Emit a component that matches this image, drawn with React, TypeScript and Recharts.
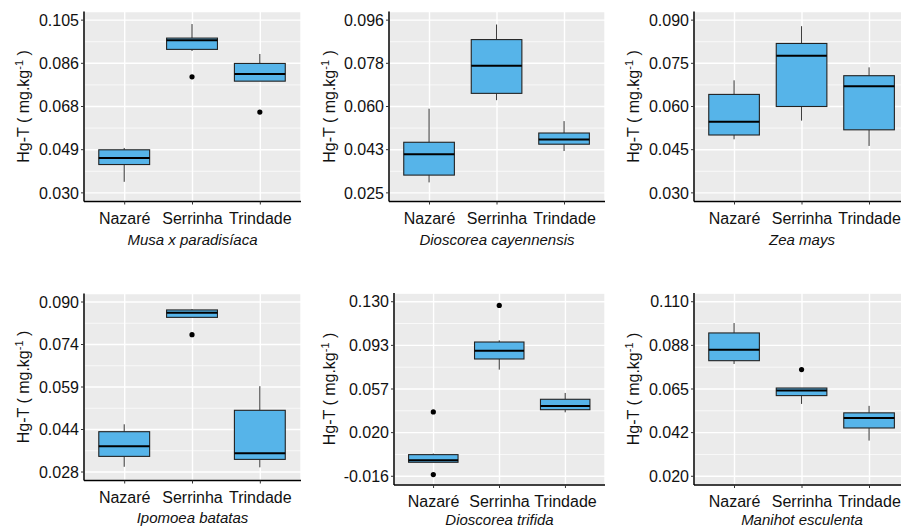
import React from "react";
import { ComposedChart, Bar, XAxis, YAxis, CartesianGrid } from "recharts";

// Hg-T box plots per site, one panel per crop species
const sites = ["Nazaré", "Serrinha", "Trindade"];
const species = [
  "Musa x paradisíaca",
  "Dioscorea cayennensis",
  "Zea mays",
  "Ipomoea batatas",
  "Dioscorea trifida",
  "Manihot esculenta",
];

// [lower whisker, Q1, median, Q3, upper whisker] per site
const musaStats = [
  [0.0348, 0.0423, 0.0451, 0.0487, 0.0495],
  [0.0916, 0.0923, 0.0963, 0.0972, 0.1033],
  [0.0785, 0.0785, 0.0816, 0.0862, 0.0903],
];
const musaOutliers = [[], [0.0804], [0.0651]];
const musaTicks = [0.03, 0.04875, 0.0675, 0.08625, 0.105];
const musaLabels = ["0.030", "0.049", "0.068", "0.086", "0.105"];

const cayenStats = [
  [0.0293, 0.0323, 0.0409, 0.0458, 0.0596],
  [0.0631, 0.0659, 0.0772, 0.088, 0.0942],
  [0.0422, 0.045, 0.0469, 0.0496, 0.0545],
];
const cayenOutliers = [[], [], []];
const cayenTicks = [0.025, 0.04275, 0.0605, 0.07825, 0.096];
const cayenLabels = ["0.025", "0.043", "0.060", "0.078", "0.096"];

const zeaStats = [
  [0.0486, 0.0501, 0.0547, 0.0642, 0.0691],
  [0.0551, 0.06, 0.0776, 0.0819, 0.0879],
  [0.0463, 0.0519, 0.067, 0.0707, 0.0736],
];
const zeaOutliers = [[], [], []];
const zeaTicks = [0.03, 0.045, 0.06, 0.075, 0.09];
const zeaLabels = ["0.030", "0.045", "0.060", "0.075", "0.090"];

const ipomStats = [
  [0.0299, 0.0337, 0.0374, 0.0427, 0.0454],
  [0.0844, 0.0844, 0.0861, 0.0871, 0.0874],
  [0.0297, 0.0326, 0.0348, 0.0505, 0.0593],
];
const ipomOutliers = [[], [0.0781], []];
const ipomTicks = [0.028, 0.0435, 0.059, 0.0745, 0.09];
const ipomLabels = ["0.028", "0.044", "0.059", "0.074", "0.090"];

const trifStats = [
  [-0.0043, -0.0043, -0.0026, 0.0021, 0.003],
  [0.0732, 0.0821, 0.089, 0.0963, 0.0977],
  [0.0375, 0.0397, 0.0428, 0.0484, 0.0537],
];
const trifOutliers = [[0.0378, -0.0146], [0.1269], []];
const trifTicks = [-0.016, 0.0205, 0.057, 0.0935, 0.13];
const trifLabels = ["-0.016", "0.020", "0.057", "0.093", "0.130"];

const maniStats = [
  [0.0779, 0.0796, 0.0853, 0.0939, 0.099],
  [0.0573, 0.0616, 0.0642, 0.0655, 0.0655],
  [0.0384, 0.0449, 0.0501, 0.0527, 0.0563],
];
const maniOutliers = [[], [0.075], []];
const maniTicks = [0.02, 0.0425, 0.065, 0.0875, 0.11];
const maniLabels = ["0.020", "0.042", "0.065", "0.088", "0.110"];

const panels = [
  { stats: musaStats, outliers: musaOutliers, ticks: musaTicks, labels: musaLabels },
  { stats: cayenStats, outliers: cayenOutliers, ticks: cayenTicks, labels: cayenLabels },
  { stats: zeaStats, outliers: zeaOutliers, ticks: zeaTicks, labels: zeaLabels },
  { stats: ipomStats, outliers: ipomOutliers, ticks: ipomTicks, labels: ipomLabels },
  { stats: trifStats, outliers: trifOutliers, ticks: trifTicks, labels: trifLabels },
  { stats: maniStats, outliers: maniOutliers, ticks: maniTicks, labels: maniLabels },
];

// page placement of each panel (chart box + plot area edges)
const layouts = [
  { left: 0, top: 0, width: 301, height: 262, x0: 84, y0: 11.5, y1: 201.5, gap: 55, xGap: 43.5 },
  { left: 303, top: 0, width: 302, height: 262, x0: 389, y0: 11.5, y1: 201.5, gap: 54, xGap: 43.5 },
  { left: 606, top: 0, width: 304, height: 262, x0: 694, y0: 11.5, y1: 201.5, gap: 55, xGap: 43.5 },
  { left: 0, top: 265, width: 301, height: 264, x0: 84, y0: 293.5, y1: 480.5, gap: 55, xGap: 42.5 },
  { left: 303, top: 265, width: 302, height: 264, x0: 394, y0: 293, y1: 485, gap: 59, xGap: 39.5 },
  { left: 606, top: 265, width: 304, height: 264, x0: 694, y0: 293, y1: 485, gap: 55, xGap: 39.5 },
];

const FONT = '"Comic Sans MS", "Liberation Sans", Arial, sans-serif';
const BOX_FILL = "#56B4E9";

function BoxShape(props: any) {
  const { x, y, width, height, payload } = props;
  if (!payload) return null;
  const [lo, q1, med, q3, hi] = payload.stats;
  const top = Math.min(y, y + height);
  const bot = Math.max(y, y + height);
  const span = hi - lo || 1;
  const py = (v: number) => bot - ((v - lo) / span) * (bot - top);
  const cx = x + width / 2;
  return (
    <g>
      <line x1={cx} x2={cx} y1={py(hi)} y2={py(q3)} stroke="#333" strokeWidth={1} />
      <line x1={cx} x2={cx} y1={py(q1)} y2={py(lo)} stroke="#333" strokeWidth={1} />
      <rect
        x={x}
        y={py(q3)}
        width={width}
        height={py(q1) - py(q3)}
        fill={BOX_FILL}
        stroke="#222"
        strokeWidth={1.1}
      />
      <line x1={x} x2={x + width} y1={py(med)} y2={py(med)} stroke="#000" strokeWidth={2} />
      {payload.outliers.map((o: number, k: number) => (
        <circle key={k} cx={cx} cy={py(o)} r={2.6} fill="#000" />
      ))}
    </g>
  );
}

function Panel({ idx }: { idx: number }) {
  const p = panels[idx];
  const l = layouts[idx];
  const data = sites.map((site, i) => ({ site, stats: p.stats[i], outliers: p.outliers[i] }));
  const first = p.ticks[0];
  const last = p.ticks[p.ticks.length - 1];
  const pad = (last - first) * 0.05;
  const domain = [first - pad, last + pad];
  const mids = p.ticks.slice(1).map((t, i) => (t + p.ticks[i]) / 2);
  const plotW = l.left + l.width - l.x0;
  const unit = plotW / 3.2;
  const xPad = plotW * 0.03125;
  const tickStyle = { fontSize: 16, fill: "#111", fontFamily: FONT };

  const yTitle = (lp: any) => {
    const vb = lp.viewBox;
    const bx = vb.x + vb.width - l.gap;
    const cy = vb.y + vb.height / 2;
    return (
      <text
        x={bx}
        y={cy}
        transform={`rotate(-90 ${bx} ${cy})`}
        textAnchor="middle"
        fontSize={16}
        fill="#111"
        fontFamily={FONT}
      >
        Hg-T ( mg.kg
        <tspan dy={-6} fontSize={11}>
          -1
        </tspan>
        <tspan dy={6}> )</tspan>
      </text>
    );
  };

  const xTitle = (lp: any) => {
    const vb = lp.viewBox;
    return (
      <text
        x={vb.x + vb.width / 2}
        y={vb.y + l.xGap}
        textAnchor="middle"
        fontSize={15}
        fontStyle="italic"
        fill="#111"
        fontFamily={FONT}
      >
        {species[idx]}
      </text>
    );
  };

  return (
    <div style={{ position: "absolute", left: l.left, top: l.top }}>
      <ComposedChart
        width={l.width}
        height={l.height}
        data={data}
        margin={{ top: l.y0 - l.top, right: 0, left: 0, bottom: 0 }}
      >
        <CartesianGrid
          yAxisId="minor"
          fill="#EBEBEB"
          stroke="#fff"
          strokeWidth={0.7}
          vertical={false}
        />
        <CartesianGrid stroke="#fff" strokeWidth={1.4} />
        <XAxis
          dataKey="site"
          type="category"
          interval={0}
          padding={{ left: xPad, right: xPad }}
          height={l.top + l.height - l.y1}
          tick={tickStyle}
          tickSize={3}
          tickMargin={8}
          tickLine={{ stroke: "#333" }}
          axisLine={{ stroke: "#000", strokeWidth: 1.5 }}
          label={xTitle}
        />
        <YAxis
          type="number"
          width={l.x0 - l.left}
          domain={domain}
          allowDataOverflow
          ticks={p.ticks}
          tickFormatter={(v: number) => {
            const k = p.ticks.findIndex((t) => Math.abs(t - v) < 1e-9);
            return k >= 0 ? p.labels[k] : String(v);
          }}
          tick={tickStyle}
          tickSize={3}
          tickMargin={2}
          tickLine={{ stroke: "#333" }}
          axisLine={{ stroke: "#000", strokeWidth: 1.5 }}
          label={yTitle}
        />
        <YAxis
          yAxisId="minor"
          type="number"
          hide
          domain={domain}
          allowDataOverflow
          ticks={mids}
        />
        <Bar
          dataKey={(d: any) => [d.stats[0], d.stats[4]]}
          barSize={unit * 0.75}
          shape={BoxShape}
          isAnimationActive={false}
        />
      </ComposedChart>
    </div>
  );
}

export default function App() {
  return (
    <div
      style={{
        position: "absolute",
        left: 0,
        top: 0,
        width: 901,
        height: 529,
        overflow: "hidden",
        background: "#fff",
        fontFamily: FONT,
      }}
    >
      {panels.map((_, i) => (
        <Panel key={i} idx={i} />
      ))}
    </div>
  );
}
